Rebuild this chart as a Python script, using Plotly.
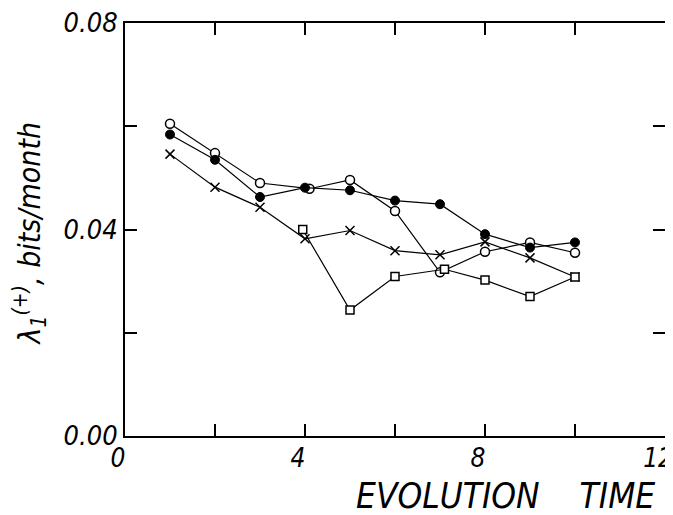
import plotly.graph_objects as go

# Data
x_open = [1, 2, 3, 4.1, 5, 6, 7, 8, 9, 10]
y_open = [0.0605, 0.0548, 0.0490, 0.0479, 0.0496, 0.0436, 0.0317, 0.0357, 0.0375, 0.0355]

x_filled = [1, 2, 3, 4, 5, 6, 7, 8, 9, 10]
y_filled = [0.0584, 0.0535, 0.0463, 0.0481, 0.0476, 0.0456, 0.0449, 0.0391, 0.0365, 0.0375]

x_cross = [1, 2, 3, 4, 5, 6, 7, 8, 9, 10]
y_cross = [0.0546, 0.0482, 0.0443, 0.0382, 0.0398, 0.0359, 0.0351, 0.0376, 0.0345, 0.0308]

x_square = [3.95, 5, 6, 7.1, 8, 9, 10]
y_square = [0.0400, 0.0244, 0.0309, 0.0323, 0.0302, 0.0270, 0.0308]

x_ticks = [0, 2, 4, 6, 8, 10, 12]
x_ticktext = ["0", "", "4", "", "8", "", "12"]
y_ticks = [0.0, 0.02, 0.04, 0.06, 0.08]
y_ticktext = ["0.00", "", "0.04", "", "0.08"]

FONT = "DejaVu Sans Condensed, DejaVu Sans, sans-serif"

fig = go.Figure()
line = dict(color="black", width=1.2)
fig.add_trace(go.Scatter(x=x_open, y=y_open, mode="lines+markers", line=line,
                         marker=dict(symbol="circle", size=9, color="white",
                                     line=dict(color="black", width=1.5))))
fig.add_trace(go.Scatter(x=x_filled, y=y_filled, mode="lines+markers", line=line,
                         marker=dict(symbol="circle", size=9, color="black",
                                     line=dict(color="black", width=1))))
fig.add_trace(go.Scatter(x=x_cross, y=y_cross, mode="lines+markers", line=line,
                         marker=dict(symbol="x-thin", size=9,
                                     line=dict(color="black", width=1.5))))
fig.add_trace(go.Scatter(x=x_square, y=y_square, mode="lines+markers", line=line,
                         marker=dict(symbol="square", size=8, color="white",
                                     line=dict(color="black", width=1.5))))

fig.update_layout(
    width=665, height=507,
    margin=dict(l=117, r=8, t=14.5, b=78.5),
    paper_bgcolor="white", plot_bgcolor="white",
    showlegend=False,
    font=dict(family=FONT, size=27, color="black", style="italic"),
)
fig.update_xaxes(range=[0, 12], tickvals=x_ticks, ticktext=x_ticktext,
                 ticks="inside", ticklen=12, tickwidth=1.5, tickcolor="black",
                 showline=True, linecolor="black", linewidth=2, mirror="ticks",
                 showgrid=False, zeroline=False, automargin=False,
                 ticklabeloverflow="allow", ticklabelstandoff=-2, ticklabelshift=-7,
                 tickfont=dict(family=FONT, size=26, style="italic"))
fig.update_yaxes(range=[0, 0.08], tickvals=y_ticks, ticktext=y_ticktext,
                 ticks="inside", ticklen=12, tickwidth=1.5, tickcolor="black",
                 showline=True, linecolor="black", linewidth=2, mirror="ticks",
                 showgrid=False, zeroline=False, automargin=False,
                 ticklabeloverflow="allow",
                 tickfont=dict(family=FONT, size=27, style="italic"))

fig.add_annotation(text="EVOLUTION    TIME", xref="paper", yref="paper",
                   x=0.985, y=-0.146, xanchor="right", yanchor="middle", showarrow=False,
                   font=dict(family=FONT, size=35, style="italic"))
fig.add_annotation(text="λ<sub>1</sub><sup>(+)</sup>, bits/month", xref="paper", yref="paper",
                   x=-0.176, y=0.49, xanchor="center", yanchor="middle", showarrow=False,
                   textangle=-90, font=dict(family=FONT, size=30, style="italic"))

fig.write_html("out.html")
